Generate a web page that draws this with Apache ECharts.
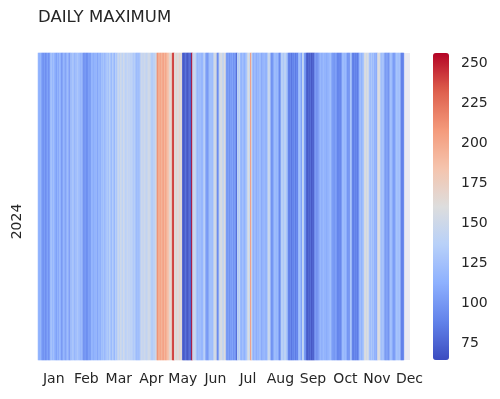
<!DOCTYPE html>
<html>
<head>
<meta charset="utf-8">
<script src="https://cdn.jsdelivr.net/npm/echarts@6/dist/echarts.min.js"></script>
<style>html,body{margin:0;padding:0;background:#fff}#c{width:500px;height:399px}</style>
</head>
<body>
<div id="c"></div>
<script>
// ---- data ----
var yearLabels = ['2024'];
var monthLabels = ['Jan','Feb','Mar','Apr','May','Jun','Jul','Aug','Sep','Oct','Nov','Dec'];
var monthTickDays = [15,47,79,111,142,174,206,238,270,302,333,365];
var colorbarTicks = [75,100,125,150,175,200,225,250];
var colorMin = 64.6, colorMax = 256.2;
var totalDays = 366;
var dailyMax = [
  118,112,120,108, 100,96,104,95,99,106,97,102,
  122,126,118,124,115,
  110,104,115,108,120,112,98,106,117,110,103,114,121,108,100,
  125,118,130,122,112,127,120,133,116,124,110,128,
  100,95,104,98,92,102,108,97,
  115,121,108,118,112,125,104,117,120,110,
  126,120,130,118,124,128,
  132,125,138,128,120,134,127,118,136,130,
  142,148,140,150,145,138,152,144,136,141,147,139,143,
  137,140,134,128,138,
  122,118,125,120,128,
  146,150,142,148,153,140,145,151,155,147,
  138,130,142,135,148,152,
  215,
  200,195,205,192,198,207,190,202,196,188,185,
  170,165,172,
  238,242,
  165,160,168,158,163,170,162,166,
  75,68,72,80,70,66,74,78,
  70,256,
  148,142,150,138,
  120,115,125,118,122,112,119,
  140,135,
  100,104,98,
  125,120,130,118,128,
  155,150,158,
  92,96,
  145,152,160,148,140,163,155,
  102,98,106,95,104,100,108,97,103,99,
  78,
  140,135,145,
  120,115,124,118,112,122,128,
  150,158,145,
  210,150,
  118,110,122,115,108,120,112,125,116,104,119,113,121,109,117,
  145,150,140,
  100,96,104,
  120,126,115,122,118,
  92,96,
  135,142,128,138,145,130,125,
  90,86,95,82,92,88,97,85,93,89,
  120,126,118,
  105,145,138,100,96,
  72,68,75,70,78,65,74,71,
  95,100,92,98,103,
  112,118,108,115,120,110,116,106,119,113,
  125,122,
  100,105,97,102,108,
  92,88,95,90,94,
  120,125,116,122,118,
  98,102,95,
  130,126,
  90,86,94,88,92,85,96,
  118,124,115,122,128,
  155,160,150,158,148,
  125,120,130,118,126,
  110,114,108,
  158,162,155,
  125,120,128,122,
  102,98,106,100,95,
  122,126,118,
  104,100,108,
  125,130,120,128,124,
  90,86,94
];

// ---- build ----
var dayCats = [];
for (var i = 0; i < totalDays; i++) dayCats.push(i);
var cells = [];
for (var d = 0; d < dailyMax.length; d++) {
  if (dailyMax[d] != null) cells.push([d, 0, dailyMax[d]]);
}
var txt = '#262626';
var font = 'DejaVu Sans';

var chart = echarts.init(document.getElementById('c'), null, {renderer: 'canvas'});
chart.setOption({
  animation: false,
  textStyle: {fontFamily: font},
  title: {
    text: 'DAILY MAXIMUM', left: 38, top: 9, padding: 0,
    textStyle: {fontFamily: font, fontSize: 16.5, fontWeight: 'normal', color: txt}
  },
  grid: [
    {left: 38, top: 53, width: 372, height: 307, show: true, backgroundColor: '#EAEAF2', borderWidth: 0},
    {left: 433, top: 53, width: 16, height: 307, show: false}
  ],
  xAxis: [
    {
      type: 'category', gridIndex: 0, data: dayCats,
      axisLine: {show: false}, axisTick: {show: false}, splitLine: {show: false},
      axisLabel: {
        interval: function (idx) { return monthTickDays.indexOf(idx) >= 0; },
        formatter: function (v, idx) { var k = monthTickDays.indexOf(Number(v)); return k >= 0 ? monthLabels[k] : ''; },
        fontSize: 14, color: txt, margin: 12, fontFamily: font, hideOverlap: false
      }
    },
    {type: 'value', gridIndex: 1, show: false, min: 0, max: 1}
  ],
  yAxis: [
    {
      type: 'category', gridIndex: 0, data: yearLabels,
      axisLine: {show: false}, axisTick: {show: false}, splitLine: {show: false},
      axisLabel: {rotate: 90, fontSize: 14, color: txt, margin: 14, fontFamily: font, padding: [0, 30, 0, 0]}
    },
    {
      type: 'value', gridIndex: 1, position: 'right', min: colorMin, max: colorMax,
      axisLine: {show: false}, splitLine: {show: false},
      axisTick: {show: true, customValues: colorbarTicks, length: 5, lineStyle: {color: txt, width: 1.2}},
      axisLabel: {customValues: colorbarTicks, fontSize: 14, color: txt, margin: 12, fontFamily: font}
    }
  ],
  visualMap: {
    type: 'continuous', seriesIndex: 0, min: colorMin, max: colorMax,
    calculable: false, orient: 'vertical', left: 433, top: 53, itemWidth: 16, itemHeight: 307,
    padding: 0, text: null, showLabel: false,
    inRange: {color: ['#3b4cc0','#6282ea','#8db0fe','#b8d0f9','#dddddd','#f5c4ad','#f49a7b','#de604d','#b40426']}
  },
  series: [{
    type: 'heatmap', xAxisIndex: 0, yAxisIndex: 0, data: cells,
    itemStyle: {borderWidth: 0},
    emphasis: {disabled: true}
  }]
});
</script>
</body>
</html>
